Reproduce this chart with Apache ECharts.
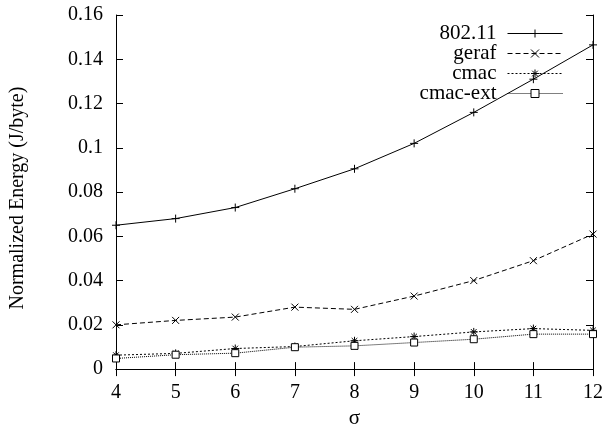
<!DOCTYPE html>
<html>
<head>
<meta charset="utf-8">
<script src="https://cdn.jsdelivr.net/npm/echarts@6/dist/echarts.min.js"></script>
<style>
  html, body { margin: 0; padding: 0; background: #fff; }
  #chart { width: 608px; height: 434px; }
</style>
</head>
<body>
<div id="chart"></div>
<script>
// sigma values on x axis
const sigma = [4, 5, 6, 7, 8, 9, 10, 11, 12];
// normalized energy (J/byte)
const e80211 = [0.065, 0.068, 0.073, 0.0815, 0.0905, 0.102, 0.116, 0.131, 0.1465];
const geraf = [0.020, 0.022, 0.0235, 0.028, 0.027, 0.033, 0.040, 0.049, 0.061];
const cmac = [0.0063, 0.0071, 0.0093, 0.0102, 0.0128, 0.0147, 0.0168, 0.0183, 0.0175];
const cmacExt = [0.0048, 0.0065, 0.0072, 0.0099, 0.0105, 0.012, 0.0135, 0.0158, 0.0158];

const FONT = 'Liberation Serif';

const pair = ys => sigma.map((x, i) => [x, ys[i]]);

// symbols drawn as strokes
const PLUS = 'path://M5,0L5,10M0,5L10,5';
const CROSS = 'path://M0,0L10,10M10,0L0,10';
const STAR = 'path://M5,0L5,10M0,5L10,5M1.5,1.5L8.5,8.5M8.5,1.5L1.5,8.5';
const BOX = 'path://M0,0L10,0L10,10L0,10Z';

const mkSeries = (name, ys, symbol, size, dash) => ({
  name: name,
  type: 'line',
  data: pair(ys),
  symbol: symbol,
  symbolSize: size,
  showAllSymbol: true,
  itemStyle: { color: symbol === BOX ? '#fff' : 'none', borderColor: '#000', borderWidth: 1 },
  lineStyle: { color: '#000', width: 1, type: dash },
  emphasis: { disabled: true },
  animation: false
});

const chart = echarts.init(document.getElementById('chart'));

const tickIn = { show: true, inside: true, length: 7, lineStyle: { color: '#000' } };

chart.setOption({
  backgroundColor: '#fff',
  grid: { left: 116, right: 15, top: 15, bottom: 64 },
  legend: {
    orient: 'vertical',
    right: 40,
    top: 18,
    align: 'right',
    itemWidth: 55,
    itemHeight: 10,
    itemGap: -1,
    itemStyle: { borderWidth: 1 },
    lineStyle: { width: 1 },
    textStyle: { fontFamily: FONT, fontSize: 21, color: '#000', padding: [0, 6, 0, 0] },
    data: ['802.11', 'geraf', 'cmac', 'cmac-ext']
  },
  xAxis: [{
    type: 'value',
    min: 4, max: 12, interval: 1,
    name: 'σ',
    nameLocation: 'middle',
    nameGap: 36,
    nameTextStyle: { fontFamily: FONT, fontSize: 21, color: '#000' },
    axisLine: { lineStyle: { color: '#000', width: 1 } },
    axisTick: tickIn,
    axisLabel: { fontFamily: FONT, fontSize: 20, color: '#000', margin: 14 },
    splitLine: { show: false }
  }, {
    type: 'value',
    position: 'top',
    min: 4, max: 12, interval: 1,
    axisLine: { show: true, lineStyle: { color: '#000', width: 1 } },
    axisTick: tickIn,
    axisLabel: { show: false },
    splitLine: { show: false }
  }],
  yAxis: [{
    type: 'value',
    min: 0, max: 0.16, interval: 0.02,
    name: 'Normalized Energy (J/byte)',
    nameLocation: 'middle',
    nameGap: 88,
    nameTextStyle: { fontFamily: FONT, fontSize: 20, color: '#000', padding: [0, 12, 0, 0] },
    axisLine: { show: true, lineStyle: { color: '#000', width: 1 } },
    axisTick: tickIn,
    axisLabel: { fontFamily: FONT, fontSize: 20, color: '#000', margin: 13 },
    splitLine: { show: false }
  }, {
    type: 'value',
    position: 'right',
    min: 0, max: 0.16, interval: 0.02,
    axisLine: { show: true, lineStyle: { color: '#000', width: 1 } },
    axisTick: tickIn,
    axisLabel: { show: false },
    splitLine: { show: false }
  }],
  series: [
    mkSeries('802.11', e80211, PLUS, 8, 'solid'),
    mkSeries('geraf', geraf, CROSS, 7, [5, 3]),
    mkSeries('cmac', cmac, STAR, 8, [2, 2]),
    mkSeries('cmac-ext', cmacExt, BOX, 7, [1, 1])
  ]
});
</script>
</body>
</html>
